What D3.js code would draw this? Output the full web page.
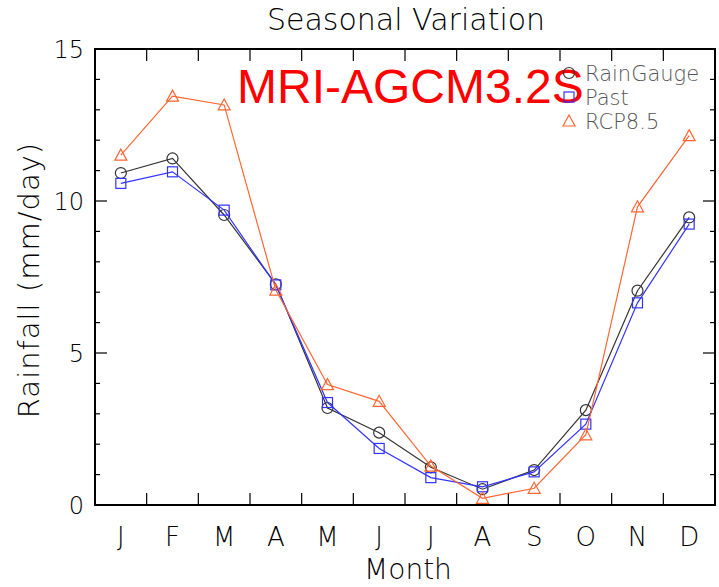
<!DOCTYPE html>
<html><head><meta charset="utf-8">
<script src="https://cdn.jsdelivr.net/npm/d3@7"></script>
<style>body{margin:0;background:#fff}svg{display:block}</style>
</head><body>
<script>
const months = ["J","F","M","A","M","J","J","A","S","O","N","D"];
const rainGauge = [10.92,11.40,9.54,7.26,3.19,2.38,1.24,0.52,1.15,3.12,7.05,9.46];
const past      = [10.58,10.96,9.70,7.24,3.37,1.86,0.90,0.60,1.09,2.66,6.65,9.24];
const rcp85     = [11.51,13.45,13.16,7.07,3.96,3.41,1.28,0.22,0.55,2.31,9.81,12.15];
const yTicks = [0,5,10,15];
const seriesNames = ["RainGauge","Past","RCP8.5"];

const W=719,H=587;
const m={l:95,r:4,t:49,b:82};
const svg=d3.select("body").append("svg").attr("width",W).attr("height",H);
const x=d3.scaleBand().domain(d3.range(12)).range([m.l,W-m.r]);
const y=d3.scaleLinear().domain([0,15]).range([H-m.b,m.t]);
const cx=i=>x(i)+x.bandwidth()/2;
const font="DejaVu Sans, sans-serif";
const tcol="#000";

// frame ticks
const g=svg.append("g").attr("stroke","#000");
d3.range(0,16,1).forEach(v=>{
  const len=v%5===0?12:5;
  g.append("line").attr("x1",m.l).attr("x2",m.l+len).attr("y1",y(v)).attr("y2",y(v)).attr("stroke-width",1.2);
  g.append("line").attr("x1",W-m.r).attr("x2",W-m.r-len).attr("y1",y(v)).attr("y2",y(v)).attr("stroke-width",1.2);
});
d3.range(1,12).forEach(i=>{
  const xx=x(i);
  g.append("line").attr("x1",xx).attr("x2",xx).attr("y1",y(0)).attr("y2",y(0)-12).attr("stroke-width",1.2);
  g.append("line").attr("x1",xx).attr("x2",xx).attr("y1",y(15)).attr("y2",y(15)+12).attr("stroke-width",1.2);
});
svg.append("rect").attr("x",m.l).attr("y",m.t).attr("width",W-m.r-m.l).attr("height",y(0)-y(15))
  .attr("fill","none").attr("stroke","#000").attr("stroke-width",2);

// y tick labels
svg.selectAll(".yt").data(yTicks).enter().append("text")
  .attr("x",m.l-11).attr("y",d=>y(d)+9).attr("text-anchor","end")
  .attr("font-family",font).attr("font-weight",200).attr("font-size",24).attr("fill",tcol).text(d=>d);
// x labels
svg.selectAll(".xt").data(months).enter().append("text")
  .attr("x",(d,i)=>cx(i)).attr("y",546).attr("text-anchor","middle")
  .attr("font-family",font).attr("font-weight",200).attr("font-size",26).attr("fill",tcol).text(d=>d);

svg.append("text").attr("x",408).attr("y",579).attr("text-anchor","middle")
  .attr("font-family",font).attr("font-weight",200).attr("font-size",28).attr("fill",tcol).text("Month");
svg.append("text").attr("transform","translate(39,280) rotate(-90)").attr("text-anchor","middle")
  .attr("font-family",font).attr("font-weight",200).attr("font-size",29).attr("letter-spacing",1)
  .attr("fill",tcol).text("Rainfall (mm/day)");
svg.append("text").attr("x",406).attr("y",30).attr("text-anchor","middle")
  .attr("font-family",font).attr("font-weight",200).attr("font-size",30).attr("fill",tcol).text("Seasonal Variation");

const series=[
  {name:seriesNames[0],data:rainGauge,color:"#333333",sym:"circle"},
  {name:seriesNames[1],data:past,color:"#3333ff",sym:"square"},
  {name:seriesNames[2],data:rcp85,color:"#ff6633",sym:"triangle"}
];
function marker(sel,sym,color,px,py){
  if(sym==="circle") sel.append("circle").attr("cx",px).attr("cy",py).attr("r",5.5).attr("fill","none").attr("stroke",color).attr("stroke-width",1.2);
  else if(sym==="square") sel.append("rect").attr("x",px-5).attr("y",py-5).attr("width",10).attr("height",10).attr("fill","none").attr("stroke",color).attr("stroke-width",1.2);
  else sel.append("path").attr("d",`M${px},${py-6}L${px+6},${py+5}L${px-6},${py+5}Z`).attr("fill","none").attr("stroke",color).attr("stroke-width",1.2);
}
const line=d3.line().x((d,i)=>cx(i)).y(d=>y(d));
series.forEach(s=>{
  svg.append("path").attr("d",line(s.data)).attr("fill","none").attr("stroke",s.color).attr("stroke-width",1.2);
  const mg=svg.append("g");
  s.data.forEach((v,i)=>marker(mg,s.sym,s.color,cx(i),y(v)));
});

// big red label
svg.append("text").attr("x",237).attr("y",103).attr("font-family","Liberation Sans, Arial, sans-serif")
  .attr("font-size",48).attr("fill","#ff0000").text("MRI-AGCM3.2S");

// legend
series.forEach((s,i)=>{
  const ly=73+i*24;
  marker(svg,s.sym,s.color,569,ly);
  svg.append("text").attr("x",585).attr("y",ly+8).attr("font-family",font).attr("font-weight",200).attr("font-size",21)
    .attr("fill","#555").text(s.name);
});
</script>
</body></html>
